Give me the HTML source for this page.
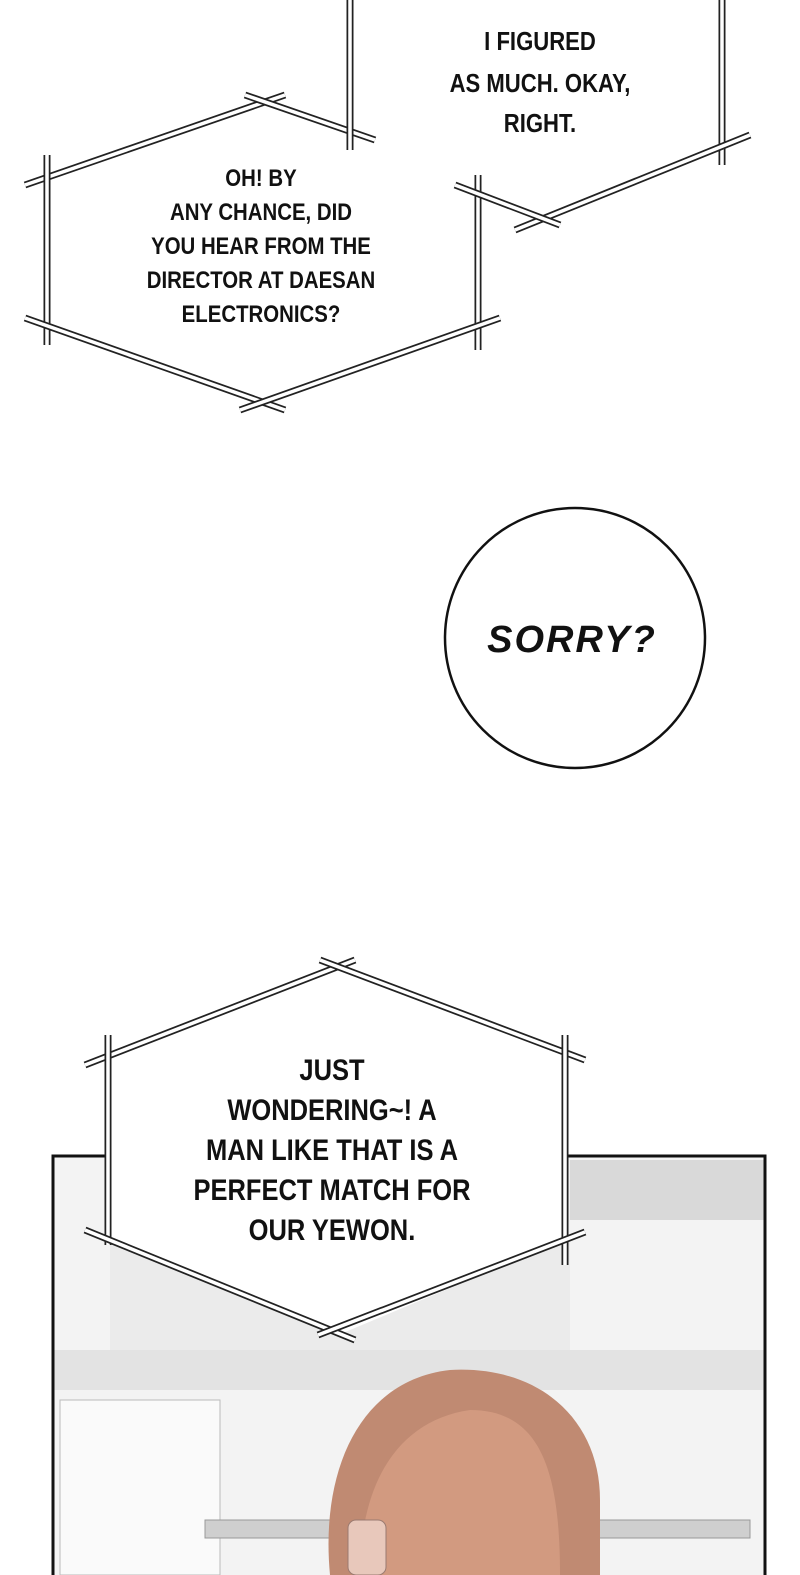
<!DOCTYPE html>
<html><head><meta charset="utf-8"><style>
html,body{margin:0;padding:0;background:#fff;}
body{width:800px;height:1575px;overflow:hidden;position:relative;}
svg{position:absolute;left:0;top:0;}
text{font-family:"Liberation Sans Narrow","Liberation Sans",sans-serif;fill:#111;}
.l{stroke:#222;stroke-width:7;}
.w{stroke:#fff;stroke-width:3.5;}
</style></head><body>
<svg width="800" height="1575" viewBox="0 0 800 1575" xmlns="http://www.w3.org/2000/svg">
<defs>
<line id="a1" x1="350" y1="0" x2="350" y2="150"/>
<line id="a2" x1="722" y1="0" x2="722" y2="165"/>
<line id="a3" x1="750" y1="135" x2="515" y2="230"/>
<line id="a4" x1="455" y1="185" x2="560" y2="225"/>
<line id="b1" x1="25" y1="185" x2="285" y2="95"/>
<line id="b2" x1="245" y1="95" x2="375" y2="140"/>
<line id="b3" x1="47" y1="155" x2="47" y2="345"/>
<line id="b4" x1="478" y1="175" x2="478" y2="350"/>
<line id="b5" x1="25" y1="318" x2="285" y2="410"/>
<line id="b6" x1="240" y1="410" x2="500" y2="318"/>
<line id="c1" x1="85" y1="1065" x2="355" y2="960"/>
<line id="c2" x1="320" y1="960" x2="585" y2="1060"/>
<line id="c3" x1="108" y1="1035" x2="108" y2="1245"/>
<line id="c4" x1="565" y1="1035" x2="565" y2="1265"/>
<line id="c5" x1="85" y1="1230" x2="355" y2="1340"/>
<line id="c6" x1="318" y1="1335" x2="585" y2="1232"/>
</defs>
<!-- bottom panel scene -->
<rect x="53" y="1156" width="712" height="419" fill="#f3f3f3"/>
<rect x="570" y="1160" width="195" height="60" fill="#d9d9d9"/>
<rect x="110" y="1240" width="460" height="110" fill="#ebebeb"/>
<rect x="53" y="1350" width="712" height="40" fill="#e3e3e3"/>
<rect x="60" y="1400" width="160" height="175" fill="#fafafa" stroke="#bbb"/>
<rect x="205" y="1520" width="545" height="18" fill="#cfcfcf" stroke="#999"/>
<path d="M330 1575 C320 1470 360 1380 450 1370 C540 1365 600 1420 600 1500 L600 1575 Z" fill="#c08a72"/>
<path d="M360 1575 C360 1480 400 1420 470 1410 C540 1410 560 1470 560 1575 Z" fill="#d29a80"/>
<rect x="348" y="1520" width="38" height="55" rx="8" fill="#e8c8bb" stroke="#9a7a70"/>
<rect x="53" y="1156" width="712" height="422" fill="none" stroke="#111" stroke-width="3"/>

<polygon points="350,0 722,0 722,145 530,225 460,190 350,150" fill="#fff"/>
<polygon points="47,170 265,100 355,130 478,190 478,325 265,405 47,330" fill="#fff"/>
<polygon points="108,1058 338,965 565,1055 565,1240 338,1335 108,1240" fill="#fff"/>
<g fill="none">
<use href="#b1" class="l"/><use href="#b1" class="w"/>
<use href="#b2" class="l"/><use href="#b2" class="w"/>
<use href="#b3" class="l"/><use href="#b3" class="w"/>
<use href="#b4" class="l"/><use href="#b4" class="w"/>
<use href="#b5" class="l"/><use href="#b5" class="w"/>
<use href="#b6" class="l"/><use href="#b6" class="w"/>
<use href="#a1" class="l"/><use href="#a1" class="w"/>
<use href="#a2" class="l"/><use href="#a2" class="w"/>
<use href="#a3" class="l"/><use href="#a3" class="w"/>
<use href="#a4" class="l"/><use href="#a4" class="w"/>
<use href="#c1" class="l"/><use href="#c1" class="w"/>
<use href="#c2" class="l"/><use href="#c2" class="w"/>
<use href="#c3" class="l"/><use href="#c3" class="w"/>
<use href="#c4" class="l"/><use href="#c4" class="w"/>
<use href="#c5" class="l"/><use href="#c5" class="w"/>
<use href="#c6" class="l"/><use href="#c6" class="w"/>
</g>
<circle cx="575" cy="638" r="130" fill="#fff" stroke="#111" stroke-width="2.5"/>

<g font-size="26" text-anchor="middle" font-weight="bold" transform="translate(540 0) scale(0.85 1) translate(-540 0)">
<text x="540" y="50">I FIGURED</text>
<text x="540" y="92">AS MUCH. OKAY,</text>
<text x="540" y="132">RIGHT.</text>
</g>
<g font-size="24" text-anchor="middle" font-weight="bold" transform="translate(261 0) scale(0.85 1) translate(-261 0)">
<text x="261" y="186">OH! BY</text>
<text x="261" y="220">ANY CHANCE, DID</text>
<text x="261" y="254">YOU HEAR FROM THE</text>
<text x="261" y="288">DIRECTOR AT DAESAN</text>
<text x="261" y="322">ELECTRONICS?</text>
</g>
<text x="572" y="652" font-size="38" font-weight="bold" font-style="italic" text-anchor="middle" letter-spacing="2">SORRY?</text>
<g font-size="30" text-anchor="middle" font-weight="bold" transform="translate(332 0) scale(0.85 1) translate(-332 0)">
<text x="332" y="1080">JUST</text>
<text x="332" y="1120">WONDERING~! A</text>
<text x="332" y="1160">MAN LIKE THAT IS A</text>
<text x="332" y="1200">PERFECT MATCH FOR</text>
<text x="332" y="1240">OUR YEWON.</text>
</g>
</svg>
</body></html>
